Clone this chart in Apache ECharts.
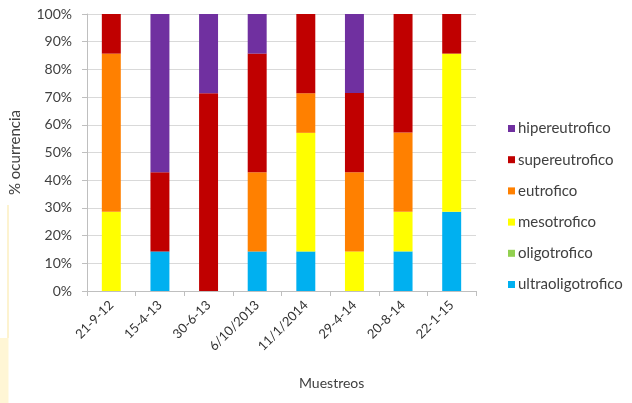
<!DOCTYPE html>
<html>
<head>
<meta charset="utf-8">
<script src="https://cdn.jsdelivr.net/npm/echarts@6/dist/echarts.min.js"></script>
<style>html,body{margin:0;padding:0;background:#fff}#c{width:632px;height:403px}</style>
</head>
<body>
<div id="c"></div>
<script>
const categories = ['21-9-12','15-4-13','30-6-13','6/10/2013','11/1/2014','29-4-14','20-8-14','22-1-15'];
const ultraoligotrofico = [0, 14.3, 0, 14.3, 14.3, 0, 14.3, 28.6];
const oligotrofico      = [0, 0, 0, 0, 0, 0, 0, 0];
const mesotrofico       = [28.6, 0, 0, 0, 42.8, 14.3, 14.3, 57.1];
const eutrofico         = [57.1, 0, 0, 28.6, 14.3, 28.6, 28.6, 0];
const supereutrofico    = [14.3, 28.6, 71.4, 42.8, 28.6, 28.6, 42.8, 14.3];
const hipereutrofico    = [0, 57.1, 28.6, 14.3, 0, 28.6, 0, 0];
const yTicks = ['0%','10%','20%','30%','40%','50%','60%','70%','80%','90%','100%'];

const seriesDefs = [
  ['ultraoligotrofico', ultraoligotrofico, '#00B0F0'],
  ['oligotrofico', oligotrofico, '#92D050'],
  ['mesotrofico', mesotrofico, '#FFFF00'],
  ['eutrofico', eutrofico, '#FF8000'],
  ['supereutrofico', supereutrofico, '#C00000'],
  ['hipereutrofico', hipereutrofico, '#7030A0']
];
const font = 'Lato, "Open Sans", sans-serif';
const chart = echarts.init(document.getElementById('c'), null, {renderer:'canvas'});
chart.setOption({
  animation: false,
  backgroundColor: '#fff',
  grid: {left: 87, right: 156, top: 14, bottom: 112, containLabel: false},
  legend: {
    orient: 'vertical', left: 503, top: 116,
    data: ['hipereutrofico','supereutrofico','eutrofico','mesotrofico','oligotrofico','ultraoligotrofico'],
    icon: 'rect', itemWidth: 7, itemHeight: 7, itemGap: 16.2,
    textStyle: {fontFamily: font, fontSize: 15, color: '#404040', padding: [0,0,0,-2]}
  },
  xAxis: {
    type: 'category', data: categories,
    axisLine: {lineStyle: {color: '#bfbfbf'}},
    axisTick: {show: true, length: 5, lineStyle: {color: '#bfbfbf'}},
    axisLabel: {rotate: 45, fontFamily: font, fontSize: 13, color: '#333333', margin: 12}
  },
  yAxis: {
    type: 'value', min: 0, max: 100, interval: 10,
    name: '% ocurrencia', nameLocation: 'middle', nameGap: 64,
    nameTextStyle: {fontFamily: font, fontSize: 15, color: '#404040'},
    axisLine: {show: true, lineStyle: {color: '#bfbfbf'}},
    axisTick: {show: true, length: 5, lineStyle: {color: '#bfbfbf'}},
    splitLine: {lineStyle: {color: '#d9d9d9'}},
    axisLabel: {fontFamily: font, fontSize: 14, color: '#404040', margin: 15,
      formatter: v => yTicks[Math.round(v/10)]}
  },
  graphic: [
    {type: 'text', left: 299, top: 376, style: {text: 'Muestreos', font: '14px ' + font, fill: '#404040'}},
    {type: 'line', shape: {x1: 8, y1: 205, x2: 8, y2: 338}, style: {stroke: '#FCEFC0', lineWidth: 1.5}},
    {type: 'rect', shape: {x: 0, y: 338, width: 8.5, height: 65}, style: {fill: '#FFF6D5'}}
  ],
  series: seriesDefs.map(([name, data, color]) => ({
    name, type: 'bar', stack: 'a', data, barWidth: '39%',
    itemStyle: {color}
  }))
});
</script>
</body>
</html>
